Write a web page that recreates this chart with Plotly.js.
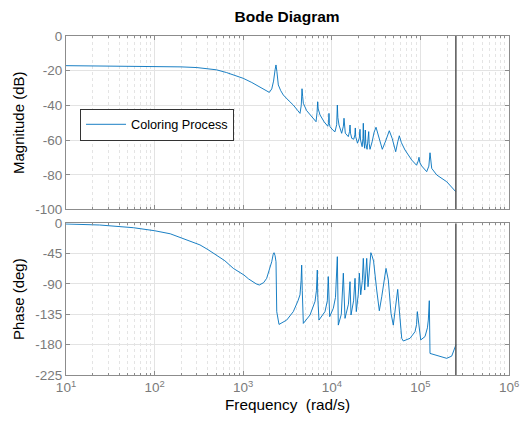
<!DOCTYPE html>
<html>
<head>
<meta charset="utf-8">
<script src="https://cdn.plot.ly/plotly-3.0.1.min.js"></script>
<style>html,body{margin:0;padding:0;background:#fff;}#chart{width:521px;height:424px;}</style>
</head>
<body>
<div id="chart"></div>
<script>
// ---- data ----
const magFreq = [10, 30, 60, 100, 150, 200, 300, 400, 500, 650, 800, 1000, 1250, 1550, 1800, 1970, 2100, 2200, 2290, 2344, 2400, 2490, 2650, 2835, 3300, 3675, 4100, 4375, 4520, 4610, 4690, 4770, 5200, 5676, 6300, 6637, 6820, 6920, 7020, 7360, 8200, 9000, 9200, 9290, 9380, 9550, 10300, 10870, 11350, 11540, 11700, 12050, 12920, 13500, 13730, 13900, 14200, 15350, 15850, 16050, 16250, 16800, 17700, 18200, 18410, 18600, 19500, 20400, 20800, 21100, 22000, 22450, 22670, 22900, 23500, 23880, 24200, 25000, 25800, 26090, 26400, 27000, 28500, 30000, 31550, 33500, 37140, 40500, 44540, 48000, 52600, 55500, 57800, 61000, 67000, 79800, 90500, 94500, 96400, 98500, 103300, 117700, 124500, 128300, 131000, 134200, 152800, 198100, 252300];
const magDb = [-17.1, -17.2, -17.3, -17.5, -17.6, -17.8, -18.2, -18.7, -19.5, -21.1, -22.7, -24.4, -26.8, -29.6, -31.6, -32.5, -30.5, -26, -19.5, -16.7, -20.5, -28.2, -31.5, -34, -37.5, -39.8, -42.8, -44.6, -40, -30.4, -35, -38.8, -43, -45.5, -48.3, -49.4, -44, -37.9, -42, -45.5, -49.5, -52, -50, -44.6, -50.5, -52.3, -54.3, -55.2, -51, -39.8, -47, -51.3, -56.1, -52, -47.4, -52.5, -56, -58, -55, -51.3, -56, -59, -59.5, -57, -53, -58, -61.8, -59, -53.8, -60, -63.8, -59, -50.3, -60, -64.7, -54.2, -62, -65.3, -60, -55.1, -62, -65.3, -61, -55.5, -52.6, -57, -65.3, -60.5, -54.6, -59, -66.7, -61, -57.5, -61.5, -65.7, -71.5, -74.5, -72, -69.9, -73, -74.9, -78.2, -75, -67.3, -73, -76.3, -80.1, -84, -89.9];

const phaseFreq = [10, 24, 57.5, 100, 150, 194, 250, 325, 400, 501, 620, 773, 900, 1020, 1150, 1300, 1400, 1520, 1700, 1840, 2000, 2098, 2180, 2228, 2290, 2345, 2390, 2535, 3097, 3675, 4150, 4375, 4500, 4570, 4640, 4770, 5676, 6460, 6700, 6860, 6950, 7160, 8370, 8900, 9120, 9250, 9460, 10400, 11000, 11540, 11650, 11840, 12800, 13490, 14090, 15400, 16050, 16470, 17600, 18280, 18900, 19900, 20440, 21200, 22100, 22670, 23510, 24300, 24770, 25630, 26700, 27600, 28400, 29600, 32120, 34370, 36580, 39000, 40900, 43420, 46590, 49440, 52610, 55430, 57790, 61520, 64120, 76320, 86900, 90500, 92270, 94700, 100800, 112700, 120000, 122800, 126000, 128300, 136000, 152800, 198100, 225400, 252300];
const phaseDeg = [-1, -2.5, -6.5, -11, -15.5, -20.8, -26, -32, -39, -47, -55.5, -66.8, -72, -76.7, -82.5, -87.6, -89.8, -91.5, -88, -81.6, -68, -57, -46, -43.6, -48, -57, -131, -150, -143.5, -131, -115, -106, -85, -62, -100, -148.5, -136, -116, -100, -69.3, -110, -143.5, -131, -115, -79, -120, -138.5, -126, -110, -49.5, -110, -151, -135, -74, -141, -120, -86.6, -136, -115, -81.6, -131, -105, -74, -106, -85, -52, -99, -75, -52, -94, -65, -43.6, -48, -56, -99, -129.7, -109, -80, -66.8, -84, -133.6, -151, -123.7, -98, -128.6, -170.6, -174.6, -170.6, -160.8, -150, -131, -143.5, -173, -168, -155, -143.5, -114.8, -193, -194, -195.4, -200.3, -197, -180];

const nyquistFreq = 251300;
const seriesName = 'Coloring Process';
const xTickVals = [10, 100, 1000, 10000, 100000, 1000000];
const xTickText = ['10<sup>1</sup>', '10<sup>2</sup>', '10<sup>3</sup>', '10<sup>4</sup>', '10<sup>5</sup>', '10<sup>6</sup>'];
const magTickVals = [0, -20, -40, -60, -80, -100];
const magTickText = ['0', '-20', '-40', '-60', '-80', '-100'];
const phaseTickVals = [0, -45, -90, -135, -180, -225];
const phaseTickText = ['0', '-45', '-90', '-135', '-180', '-225'];

// ---- styling ----
const FONT = 'Liberation Sans, Arial, Helvetica, sans-serif';
const lineColor = '#0072BD';
const axisGrey = '#8c8c8c';
const gridGrey = '#e3e3e3';

function xAxis(showLabels, anchor) {
  return {
    type: 'log', range: [1, 6], domain: [0.1267, 0.977], anchor: anchor,
    tickvals: xTickVals, ticktext: xTickText, showticklabels: showLabels,
    showline: true, linecolor: axisGrey, linewidth: 1, mirror: 'ticks',
    ticks: 'inside', ticklen: 4, tickcolor: axisGrey,
    showgrid: true, gridcolor: gridGrey, gridwidth: 1,
    minor: {dtick: 'D1', showgrid: true, griddash: 'dot', gridcolor: '#e4e4e4', gridwidth: 1, ticks: 'inside', ticklen: 2, tickcolor: axisGrey},
    tickfont: {family: FONT, size: 13.5, color: '#7a7a7a'},
    zeroline: false
  };
}
function yAxis(domain, range, vals, txt, title, anchor) {
  return {
    domain: domain, range: range, anchor: anchor,
    tickvals: vals, ticktext: txt,
    showline: true, linecolor: axisGrey, linewidth: 1, mirror: 'ticks',
    ticks: 'inside', ticklen: 4, tickcolor: axisGrey,
    showgrid: true, gridcolor: gridGrey, gridwidth: 1, zeroline: false,
    tickfont: {family: FONT, size: 13.5, color: '#7a7a7a'},
    title: {text: title, font: {family: FONT, size: 15, color: '#000'}, standoff: 7}
  };
}

const traces = [
  {x: magFreq, y: magDb, type: 'scatter', mode: 'lines', name: seriesName,
   line: {color: lineColor, width: 0.9}, xaxis: 'x', yaxis: 'y', showlegend: true},
  {x: phaseFreq, y: phaseDeg, type: 'scatter', mode: 'lines', name: seriesName,
   line: {color: lineColor, width: 0.9}, xaxis: 'x2', yaxis: 'y2', showlegend: false},
  {x: [nyquistFreq, nyquistFreq], y: [-100, 0], type: 'scatter', mode: 'lines',
   line: {color: '#555', width: 1.5}, xaxis: 'x', yaxis: 'y', showlegend: false, hoverinfo: 'skip'},
  {x: [nyquistFreq, nyquistFreq], y: [-225, 0], type: 'scatter', mode: 'lines',
   line: {color: '#555', width: 1.5}, xaxis: 'x2', yaxis: 'y2', showlegend: false, hoverinfo: 'skip'}
];

const xa2 = xAxis(true, 'y2');
xa2.title = {text: 'Frequency  (rad/s)', font: {family: FONT, size: 15.3, color: '#000'}, standoff: 5};

const layout = {
  width: 521, height: 424,
  margin: {l: 0, r: 0, t: 0, b: 0},
  paper_bgcolor: '#fff', plot_bgcolor: '#fff',
  font: {family: FONT},
  title: {text: '<b>Bode Diagram</b>', font: {family: FONT, size: 15.5, color: '#000'},
          x: 0.551, xanchor: 'center', y: 0.96, yanchor: 'middle'},
  xaxis: xAxis(false, 'y'),
  yaxis: yAxis([0.5059, 0.9151], [-100, 0], magTickVals, magTickText, 'Magnitude (dB)', 'x'),
  xaxis2: xa2,
  yaxis2: yAxis([0.1156, 0.4733], [-225, 0], phaseTickVals, phaseTickText, 'Phase (deg)', 'x2'),
  showlegend: true,
  legend: {x: 0.1536, y: 0.744, xanchor: 'left', yanchor: 'top',
           bgcolor: '#fff', bordercolor: '#333', borderwidth: 1,
           font: {family: FONT, size: 12.7, color: '#000'}, itemwidth: 40,
           tracegroupgap: 0}
};

Plotly.newPlot('chart', traces, layout, {displayModeBar: false, staticPlot: true});
</script>
</body>
</html>
